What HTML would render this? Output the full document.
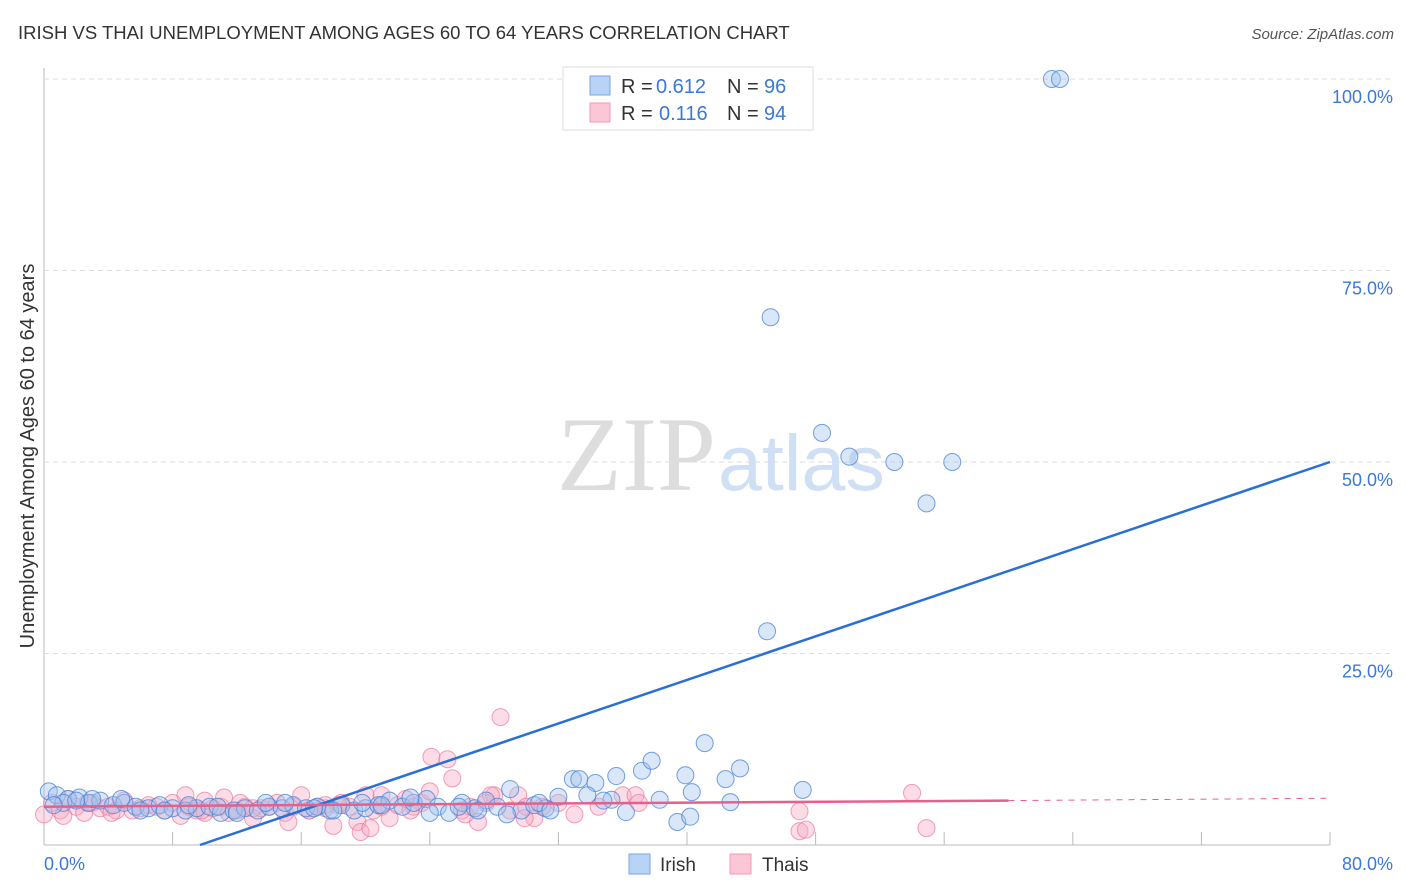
<!DOCTYPE html>
<html><head><meta charset="utf-8"><style>
body{margin:0;background:#fff;font-family:"Liberation Sans",sans-serif}
svg{display:block}
</style></head><body>
<svg id="chart" width="1406" height="892">
<text x="18" y="39" font-size="18.5" fill="#333">IRISH VS THAI UNEMPLOYMENT AMONG AGES 60 TO 64 YEARS CORRELATION CHART</text>
<text x="1394" y="39" font-size="15" fill="#555" font-style="italic" text-anchor="end">Source: ZipAtlas.com</text>
<text x="716" y="490" font-size="106" fill="#ddd" text-anchor="end" font-family="Liberation Serif,serif">ZIP</text>
<text x="718" y="490" font-size="79" fill="#cfe0f5">atlas</text>
<text transform="translate(34,456) rotate(-90)" font-size="20" fill="#333" text-anchor="middle">Unemployment Among Ages 60 to 64 years</text>
<g id="grid"></g><g id="marks"></g><g id="lines"></g>
<g>
<rect x="563" y="67" width="250" height="63" fill="#fff" stroke="#ddd"/>
<rect x="590" y="76" width="20" height="19" fill="#b8d3f5" stroke="#7aa6e0"/>
<rect x="590" y="103" width="20" height="19" fill="#fbc7d6" stroke="#f09ab3"/>
<text x="621" y="93" font-size="20" fill="#333">R =</text>
<text x="656" y="93" font-size="20" fill="#3b78d8">0.612</text>
<text x="727" y="93" font-size="20" fill="#333">N =</text>
<text x="764" y="93" font-size="20" fill="#3b78d8">96</text>
<text x="621" y="120" font-size="20" fill="#333">R =</text>
<text x="659" y="120" font-size="20" fill="#3b78d8">0.116</text>
<text x="727" y="120" font-size="20" fill="#333">N =</text>
<text x="764" y="120" font-size="20" fill="#3b78d8">94</text>
</g>
<g>
<rect x="629" y="854" width="21" height="20" fill="#b8d3f5" stroke="#7aa6e0"/>
<text x="660" y="871" font-size="19" fill="#333">Irish</text>
<rect x="730" y="854" width="21" height="20" fill="#fbc7d6" stroke="#f09ab3"/>
<text x="762" y="871" font-size="19" fill="#333">Thais</text>
</g>
</svg>
<script>
const xTicks=[0,8,16,24,32,40,48,56,64,72,80];
const yTickVals=[25,50,75,100];
const yTickLabels=["25.0%","50.0%","75.0%","100.0%"];
const irishX=[0.3,0.8,1.5,2.2,2.8,3.5,4.3,5,5.7,6.5,7.2,8,8.8,9.5,10.3,11,11.8,12.5,13.3,14,14.8,15.5,16.3,17,17.8,18.5,19.3,20,20.8,21.5,22.3,23,23.8,24.5,25.2,26,26.8,27.5,28.2,29,29.7,30.5,31.2,32,32.9,33.3,34.3,35.3,35.6,36.2,37.2,37.8,38.3,39.4,39.9,40.2,40.3,41.1,42.4,42.7,43.3,44.98,45.2,47.2,48.4,50.1,52.9,54.9,56.5,62.7,63.2,1.2,3,6,9,12,15,18,21,24,27,30.8,22.8,25.8,28.8,31.5,10.8,13.8,16.8,19.8,7.5,4.8,2,0.6,34.8,33.8];
const irishY=[7,6.5,6,6.2,5.5,5.8,5.2,5.5,5,4.8,5.2,4.8,4.5,4.8,5,4.2,4.5,4.8,4.5,5,4.8,5.2,4.8,5,4.5,5.2,4.5,4.8,5.2,5.8,5,5.5,6,5,4.2,5.5,4.8,5.8,5,7.3,4.5,5.2,4.8,6.3,8.6,8.6,8.1,5.9,9,4.3,9.7,11,5.9,3,9.1,3.7,6.9,13.3,8.6,5.6,10,27.9,68.9,7.2,53.8,50.7,50,44.6,50,100,100,5.5,6,4.5,5.2,4.2,5.5,4.5,5.2,4.2,4.5,5.5,6.2,5,4,4.5,5,5.5,4.8,5.5,4.5,6,5.8,5.2,5.8,6.5];
const thaiX=[0,0.5,1,1.5,2,2.5,3,3.5,4,4.5,5,5.5,6,6.5,7,7.5,8,8.5,9,9.5,10,10.5,11,11.5,12,12.5,13,13.5,14,14.5,15,15.5,16,16.5,17,17.5,18,18.5,19,19.5,20,20.5,21,21.5,22,22.5,23,23.5,24,24.1,25.1,25.4,26,26.5,27,27.5,28,28.4,29,29.5,30,30.5,31,32,33,34.5,36,36.8,37,47,47,47.4,54,54.9,1.2,2.7,4.2,8.8,9.8,12.2,15.2,17.5,19.7,20.3,21,22.8,26.2,27.8,29.9,10,13,16.5,18.3,11.2];
const thaiY=[4,5.5,4.5,6,5,4.2,5.5,4.8,5,4.5,5.8,4.5,4.8,5.2,5,4.5,5.5,3.8,5,4.5,4.2,4.8,5,4.2,4.5,5,3.5,4.8,5,5.5,4.2,5,6.5,4.5,5,4.8,2.5,5.5,5,3,6.5,4.5,5,3.5,5.2,6,5,5.5,7,11.5,11.2,8.7,4.5,5,3,5.5,6.5,16.7,4.5,6.5,5,3.5,5,5.5,4,5,6.5,6.5,5.5,4.4,1.8,2,6.8,2.2,3.8,5.5,4.2,6.5,4.5,5.5,3,5.2,1.7,2.2,6.5,4.5,4,6.5,3.5,5.8,4.8,4.5,5.2,6.2];
const X=v=>44+v*1286/80, Y=v=>845-v*7.66;
const NS="http://www.w3.org/2000/svg";
function mk(tag,attrs,parent){const e=document.createElementNS(NS,tag);for(const k in attrs)e.setAttribute(k,attrs[k]);parent.appendChild(e);return e;}
const grid=document.getElementById('grid'),marks=document.getElementById('marks'),lines=document.getElementById('lines');
let ax=mk('line',{x1:44,y1:68,x2:44,y2:845,stroke:'#bbb'},grid);


let bx=mk('line',{x1:44,y1:845,x2:1330,y2:845,stroke:'#bbb'},grid);


xTicks.forEach((t,i)=>{if(i===0)return;const l=mk('line',{x1:X(t),y1:832,x2:X(t),y2:845,stroke:'#bbb'},grid);

});
yTickVals.forEach((v,i)=>{const l=mk('line',{x1:44,y1:Y(v),x2:1394,y2:Y(v),stroke:'#ddd','stroke-dasharray':'5,4'},grid);


const t=mk('text',{x:1393,y:Y(v)+24,'font-size':18,fill:'#3b78d8','text-anchor':'end'},grid);t.textContent=yTickLabels[i];

});
const x0=mk('text',{x:44,y:870,'font-size':18,fill:'#3b78d8'},grid);x0.textContent=xTicks[0].toFixed(1)+'%';


const x1=mk('text',{x:1393,y:870,'font-size':18,fill:'#3b78d8','text-anchor':'end'},grid);x1.textContent=xTicks[xTicks.length-1].toFixed(1)+'%';


thaiX.forEach((x,i)=>{const c=mk('circle',{cx:X(x),cy:Y(thaiY[i]),r:8.5,fill:'rgba(248,170,195,0.4)',stroke:'rgba(235,120,155,0.7)','stroke-width':1},marks);

});
irishX.forEach((x,i)=>{const c=mk('circle',{cx:X(x),cy:Y(irishY[i]),r:8.5,fill:'rgba(160,195,240,0.4)',stroke:'rgba(70,130,215,0.75)','stroke-width':1},marks);

});
const bl=mk('line',{x1:X(9.7),y1:Y(0),x2:X(80),y2:Y(50),stroke:'#2a6fd6','stroke-width':2.5},lines);


const pl=mk('line',{x1:X(0),y1:Y(5),x2:X(60),y2:Y(5.8),stroke:'#e8608a','stroke-width':2.5},lines);


const pd=mk('line',{x1:X(60),y1:Y(5.8),x2:X(80),y2:Y(6.1),stroke:'#e8608a','stroke-width':1,'stroke-dasharray':'6,6'},lines);


</script>
</body></html>
